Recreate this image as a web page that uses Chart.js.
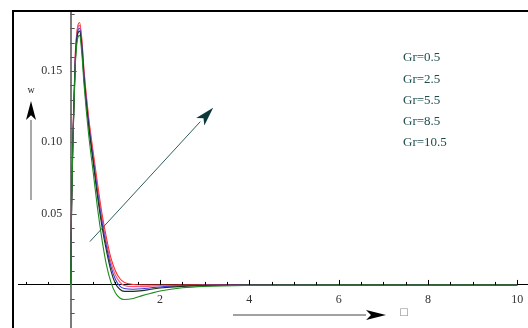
<!DOCTYPE html>
<html>
<head>
<meta charset="utf-8">
<script src="https://cdn.jsdelivr.net/npm/chart.js@4"></script>
<style>
   html, body { margin: 0; padding: 0; background: #fff; }
   #wrap { width: 528px; height: 328px; }
</style>
</head>
<body>
<div id="wrap"><canvas id="chart" width="528" height="328"></canvas></div>
<script>
/* global Chart */

// eta values shared by every curve
const eta = [0, 0.02, 0.05, 0.1, 0.15, 0.2, 0.25, 0.3, 0.4, 0.5, 0.6, 0.7, 0.8, 0.9, 1.0, 1.1, 1.2, 1.4, 1.6, 1.8, 2.0, 2.5, 3.0, 4.0, 6.0, 8.0, 10.0];

const grLabels = ["Gr=0.5", "Gr=2.5", "Gr=5.5", "Gr=8.5", "Gr=10.5"];

const wGr05 = [0, 0.054, 0.100, 0.152, 0.172, 0.175, 0.162, 0.140, 0.106, 0.080, 0.054, 0.032, 0.014, 0.002, -0.0055, -0.0092, -0.0102, -0.0095, -0.0075, -0.0058, -0.0043, -0.002, -0.001, -0.0003, 0, 0, 0];
const wGr25 = [0, 0.055, 0.102, 0.154, 0.175, 0.178, 0.166, 0.144, 0.112, 0.087, 0.062, 0.041, 0.024, 0.010, 0.001, -0.003, -0.0045, -0.0045, -0.004, -0.003, -0.0022, -0.001, -0.0004, 0, 0, 0, 0];
const wGr55 = [0, 0.056, 0.103, 0.156, 0.177, 0.180, 0.168, 0.146, 0.114, 0.089, 0.065, 0.044, 0.027, 0.013, 0.004, -0.0008, -0.0025, -0.003, -0.0027, -0.002, -0.0014, -0.0006, -0.0002, 0, 0, 0, 0];
const wGr85 = [0, 0.057, 0.104, 0.158, 0.179, 0.182, 0.170, 0.148, 0.116, 0.091, 0.068, 0.047, 0.030, 0.016, 0.007, 0.002, -0.0004, -0.0012, -0.0012, -0.0009, -0.0006, -0.0002, 0, 0, 0, 0, 0];
const wGr105 = [0, 0.058, 0.105, 0.160, 0.180, 0.184, 0.172, 0.150, 0.118, 0.094, 0.071, 0.050, 0.033, 0.019, 0.010, 0.0045, 0.0018, 0.0003, 0, 0, 0, 0, 0, 0, 0, 0, 0];

const seriesValues = [wGr05, wGr25, wGr55, wGr85, wGr105];
const seriesColors = ["#1f8a1f", "#1c2e1c", "#3a3ae0", "#ef5a7a", "#ff2a2a"];

// axis ticks
const xTickLabels = [2, 4, 6, 8, 10];
const yTickLabels = [0.05, 0.10, 0.15];

// Gr arrow, in data coordinates (start, tip)
const grArrow = [[0.43, 0.0304], [3.19, 0.1243]];

const FONT = "'Liberation Serif', 'DejaVu Serif', serif";

/**
 * @param {CanvasRenderingContext2D} ctx
 * @param {number} x0
 * @param {number} y0
 * @param {number} x1
 * @param {number} y1
 * @param {number} headLen
 * @param {number} headHalf
 * @param {string} lineColor
 * @param {string} headColor
 */
function drawArrow(ctx, x0, y0, x1, y1, headLen, headHalf, lineColor, headColor) {
   const ang = Math.atan2(y1 - y0, x1 - x0);
   const bx = x1 - Math.cos(ang) * headLen;
   const by = y1 - Math.sin(ang) * headLen;
   ctx.strokeStyle = lineColor;
   ctx.lineWidth = 1;
   ctx.beginPath();
   ctx.moveTo(x0, y0);
   ctx.lineTo(bx, by);
   ctx.stroke();
   const nx = -Math.sin(ang);
   const ny = Math.cos(ang);
   const nb = headLen * 0.25;
   ctx.fillStyle = headColor;
   ctx.beginPath();
   ctx.moveTo(x1, y1);
   ctx.lineTo(bx + nx * headHalf, by + ny * headHalf);
   ctx.lineTo(bx + Math.cos(ang) * nb, by + Math.sin(ang) * nb);
   ctx.lineTo(bx - nx * headHalf, by - ny * headHalf);
   ctx.closePath();
   ctx.fill();
}

// axes sit inside the plot, so they should not eat layout space
function noPadding(scale) {
   scale.paddingLeft = 0;
   scale.paddingRight = 0;
   scale.paddingTop = 0;
   scale.paddingBottom = 0;
}

const decorations = {
   id: "decorations",
   afterDraw(chart) {
      const ctx = chart.ctx;
      const xs = chart.scales.x;
      const ys = chart.scales.y;
      const x0 = xs.getPixelForValue(0);
      const y0 = ys.getPixelForValue(0);
      ctx.save();

      // minor / major tick marks
      ctx.lineWidth = 1;
      ctx.strokeStyle = "#555";
      for (let k = -3; k <= 19; k++) {
         if (k === 0) continue;
         const py = Math.round(ys.getPixelForValue(k / 100)) + 0.5;
         const len = k % 5 === 0 ? 6 : 4;
         ctx.beginPath();
         ctx.moveTo(x0, py);
         ctx.lineTo(x0 + len, py);
         ctx.stroke();
      }
      ctx.strokeStyle = "#000";
      for (let k = -2; k <= 20; k++) {
         if (k === 0) continue;
         const px = Math.round(xs.getPixelForValue(k / 2)) + 0.5;
         const len = k % 4 === 0 ? 5 : 3;
         ctx.beginPath();
         ctx.moveTo(px, y0);
         ctx.lineTo(px, y0 - len);
         ctx.stroke();
      }

      // frame
      ctx.strokeStyle = "#000";
      ctx.lineWidth = 2;
      ctx.beginPath();
      ctx.moveTo(13, 328);
      ctx.lineTo(13, 11);
      ctx.lineTo(528, 11);
      ctx.stroke();

      // legend text
      ctx.fillStyle = "#1e4d4d";
      ctx.font = "13px " + FONT;
      ctx.textAlign = "left";
      ctx.textBaseline = "middle";
      grLabels.forEach((label, i) => {
         ctx.fillText(label, 403, 58 + i * 21.25);
      });

      // Gr arrow
      drawArrow(
         ctx,
         xs.getPixelForValue(grArrow[0][0]), ys.getPixelForValue(grArrow[0][1]),
         xs.getPixelForValue(grArrow[1][0]), ys.getPixelForValue(grArrow[1][1]),
         19, 5.5, "#2f5c5c", "#0b3838"
      );

      // w axis arrow
      drawArrow(ctx, 31, 200, 31, 101, 19, 5, "#555", "#000");
      ctx.fillStyle = "#222";
      ctx.font = "10px " + FONT;
      ctx.textAlign = "center";
      ctx.fillText("w", 31, 90);

      // eta axis arrow
      drawArrow(ctx, 233, 315, 386, 315, 20, 5, "#444", "#000");
      ctx.fillStyle = "#888";
      ctx.font = "10px 'DejaVu Sans'";
      ctx.fillText("\u25A1", 404, 312);

      ctx.restore();
   },
};

const datasets = seriesValues.map((vals, i) => ({
   label: grLabels[i],
   data: eta.map((x, j) => ({ x: x, y: vals[j] })),
   borderColor: seriesColors[i],
   borderWidth: 1.1,
   pointRadius: 0,
   fill: false,
   cubicInterpolationMode: "monotone",
}));

const ctx = document.getElementById("chart").getContext("2d");

new Chart(ctx, {
   type: "line",
   data: { datasets: datasets },
   options: {
      animation: false,
      responsive: false,
      maintainAspectRatio: false,
      layout: { padding: { left: 18, top: 13, right: 0, bottom: 0 } },
      plugins: {
         legend: { display: false },
         tooltip: { enabled: false },
      },
      scales: {
         x: {
            type: "linear",
            position: { y: 0 },
            min: -1.18,
            max: 10.24,
            grid: { display: false, drawTicks: false },
            border: { display: true, color: "#000", width: 1 },
            afterBuildTicks(scale) {
               scale.ticks = xTickLabels.map((v) => ({ value: v }));
            },
            afterFit: noPadding,
            ticks: {
               autoSkip: false,
               maxRotation: 0,
               padding: 8,
               color: "#333",
               font: { family: FONT, size: 12 },
               callback: (v) => String(v),
            },
         },
         y: {
            type: "linear",
            position: { x: 0 },
            min: -0.0302,
            max: 0.1907,
            grid: { display: false, drawTicks: false },
            border: { display: true, color: "#7a7a7a", width: 2 },
            afterBuildTicks(scale) {
               scale.ticks = yTickLabels.map((v) => ({ value: v }));
            },
            afterFit: noPadding,
            ticks: {
               autoSkip: false,
               color: "#333",
               font: { family: FONT, size: 12 },
               // labels of an inner axis get no padding, so add a gap
               callback: (v) => Number(v).toFixed(2) + "\u2002\u2009",
            },
         },
      },
   },
   plugins: [decorations],
});
</script>
</body>
</html>
